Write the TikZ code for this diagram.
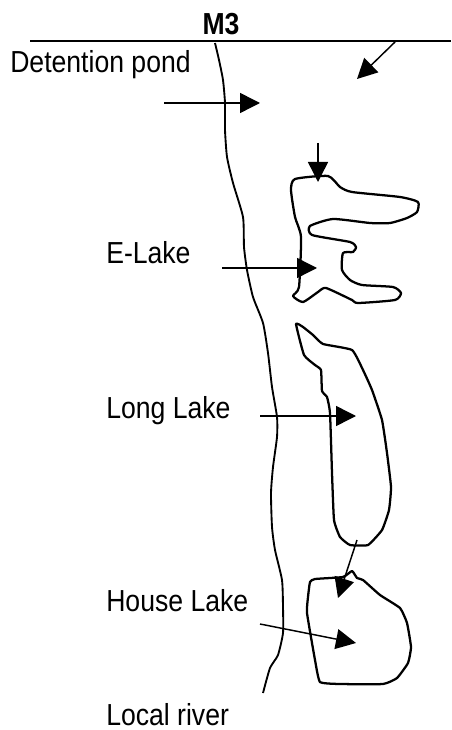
\documentclass[tikz,border=0pt]{standalone}
\usepackage{fontspec}
\setmainfont{Liberation Sans}
\newfontfamily\lblfont[FakeStretch=0.875]{Liberation Sans}
\usetikzlibrary{arrows.meta}

\begin{document}
\begin{tikzpicture}[
  x=0.75pt,y=-0.75pt,
  >={Triangle[length=15pt,width=15pt]},
  lbl/.style={anchor=base west,inner sep=0pt,font=\fontsize{22.8}{25}\lblfont},
  shore/.style={line width=1.7pt,line join=round},
  river/.style={line width=1.4pt,line join=round},
  flow/.style={->,line width=1.1pt},
]
  \useasboundingbox (0,0) rectangle (451,730);

  \node[anchor=base,inner sep=0pt,font=\fontsize{22.8}{25}\lblfont\bfseries] (m3) at (221,35) {M3};
  \node[lbl] (pond)  at (10,73)  {Detention pond};
  \node[lbl] (elake) at (106,264) {E-Lake};
  \node[lbl] (llake) at (106,418) {Long Lake};
  \node[lbl] (hlake) at (106,611) {House Lake};
  \node[lbl] (lriv)  at (106,725) {Local river};

  % boundary line
  \coordinate (topl) at (30,41);
  \coordinate (topr) at (451,41);
  \draw[line width=1.1pt] (topl) -- (topr);

  % local river
  \draw[river] plot[smooth,tension=0.35] coordinates {
    (215,43) (219,60) (223,80) (225,103) (225,130) (227,157) (233,183) (243,217)
    (244,247) (247,270) (253,297) (263,323) (268,353) (272,387) (277,417) (277,437)
    (273,467) (271,493) (272,527) (275,550) (282,580) (283,607) (283,633) (278,655)
    (270,668) (263,693)};

  % E-Lake
  \draw[shore] plot[smooth cycle,tension=0.35] coordinates {
    (295,179) (328,176) (340,187) (352,192) (400,197) (418,202) (417,212) (407,218)
    (390,223) (370,223) (333,219) (310,226) (312,235) (350,242) (356,247) (353,252)
    (343,253) (342,270) (350,280) (362,285) (393,287) (401,293) (395,300) (358,303)
    (352,300) (326,288) (318,292) (303,302) (293,296) (299,287) (301,237) (295,217)
    (291,190)};

  % Long Lake
  \draw[shore] plot[smooth cycle,tension=0.25] coordinates {
    (296,324) (303,327) (313,335) (323,344) (352,350) (363,370) (372,390) (382,420)
    (387,453) (391,487) (389,510) (382,530) (368,545) (350,545) (340,537) (334,520)
    (332,473) (330,413) (327,397) (322,391) (321,370) (315,365) (304,355)};

  % House Lake
  \draw[shore] plot[smooth cycle,tension=0.25] coordinates {
    (310,582) (315,579) (343,577) (352,571) (357,578) (363,580) (380,595) (400,608)
    (407,623) (411,647) (408,663) (397,678) (383,684) (340,684) (320,682) (315,660)
    (307,613) (308,597)};

  % flows
  \coordinate (a1) at (164,103);  \coordinate (b1) at (260,103);
  \coordinate (a2) at (395,42);   \coordinate (b2) at (357,79);
  \coordinate (a3) at (318,143);  \coordinate (b3) at (318,182);
  \coordinate (a4) at (222,268);  \coordinate (b4) at (317,268);
  \coordinate (a5) at (260,416);  \coordinate (b5) at (356,416);
  \coordinate (a6) at (357,540);  \coordinate (b6) at (338,598);
  \coordinate (a7) at (260,624);  \coordinate (b7) at (356,643);
  \foreach \i in {1,...,7}
    \draw[flow] (a\i) -- (b\i);
\end{tikzpicture}
\end{document}
